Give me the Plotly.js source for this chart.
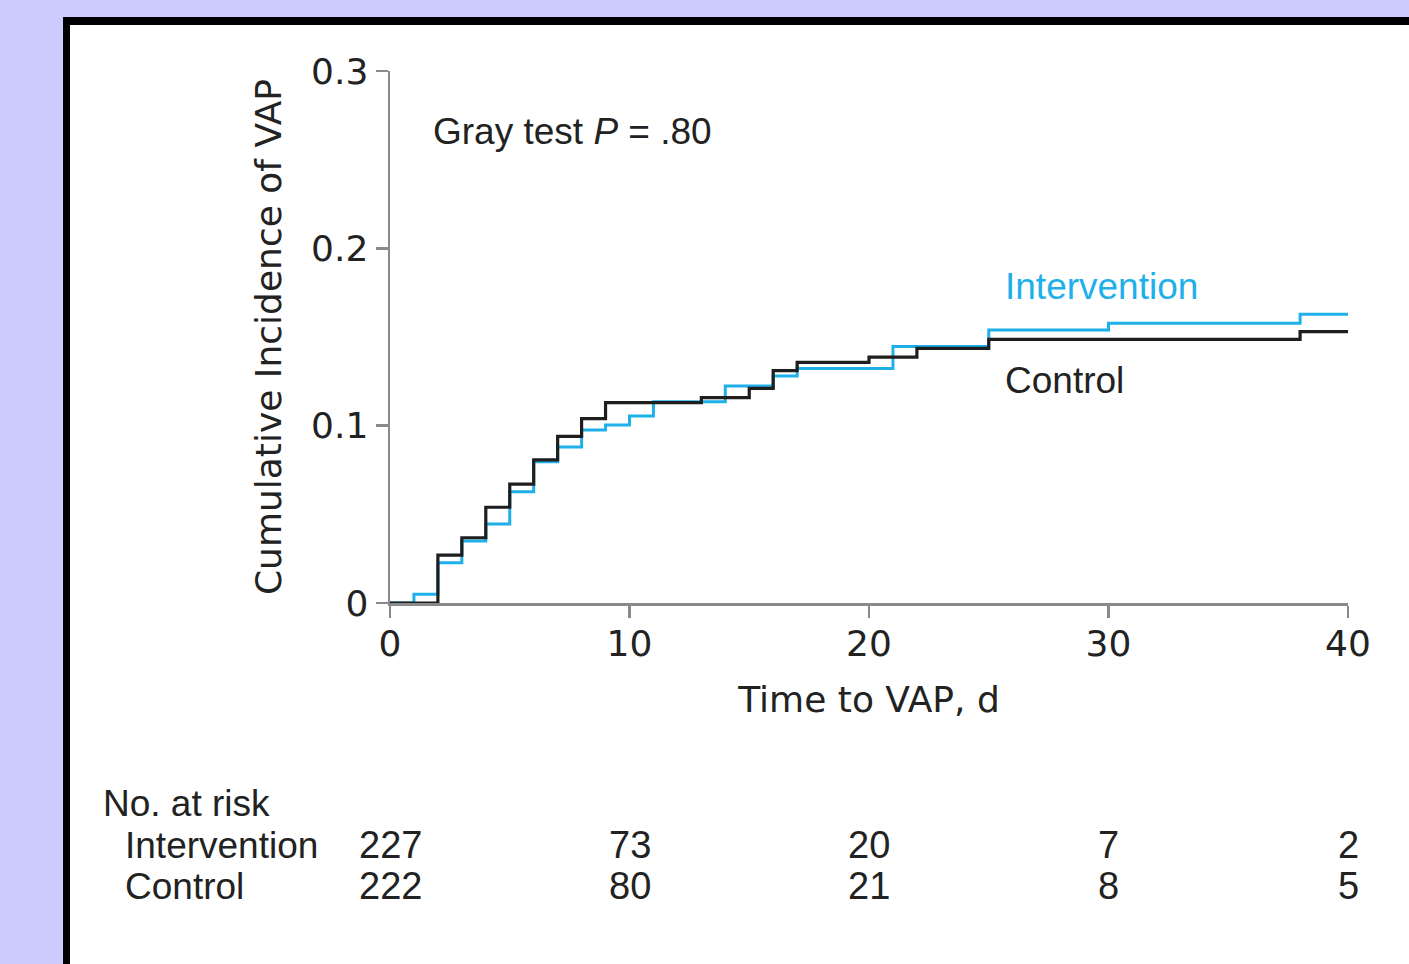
<!DOCTYPE html>
<html>
<head>
<meta charset="utf-8">
<script src="https://cdn.plot.ly/plotly-3.0.1.min.js"></script>
<style>
  html, body { margin: 0; padding: 0; background: #ccccff; width: 1409px; height: 964px; overflow: hidden; }
  #frame { position: absolute; left: 63px; top: 17px; width: 1346px; height: 947px;
           border-left: 7px solid #000; border-top: 8px solid #000; background: #fff; }
  #chart { width: 1339px; height: 939px; }
</style>
</head>
<body>
<div id="frame"><div id="chart"></div></div>
<script>
// Cumulative incidence of VAP (step functions)
const interventionDays = [0, 1, 2, 3, 4, 5, 6, 7, 8, 9, 10, 11, 14, 16, 17, 21, 25, 30, 38, 40];
const interventionCI   = [0, 0.005, 0.0227, 0.035, 0.0445, 0.0628, 0.0797, 0.088, 0.0976, 0.1004, 0.1055, 0.1135, 0.1224, 0.128, 0.1323, 0.1446, 0.154, 0.1577, 0.1628, 0.1628];
const controlDays = [0, 2, 3, 4, 5, 6, 7, 8, 9, 13, 15, 16, 17, 20, 22, 25, 38, 40];
const controlCI   = [0, 0.027, 0.0368, 0.054, 0.067, 0.0807, 0.094, 0.104, 0.113, 0.1158, 0.121, 0.131, 0.1357, 0.1386, 0.1436, 0.1487, 0.153, 0.153];

// Numbers at risk
const riskDays = [0, 10, 20, 30, 40];
const riskIntervention = [227, 73, 20, 7, 2];
const riskControl = [222, 80, 21, 8, 5];

const xTickVals = [0, 10, 20, 30, 40];
const yTickVals = [0, 0.1, 0.2, 0.3];
const yTickText = ['0', '0.1', '0.2', '0.3'];

const BLUE = '#1fb0ea';
const BLACK = '#1e1e1e';
const TEXT = '#222222';
const AXIS = '#8a8a8a';
const FONT = '"Liberation Sans", Arial, Helvetica, sans-serif';
const AXFONT = '"DejaVu Sans", "Liberation Sans", Arial, sans-serif';
const FS = 37;
const AFS = 36;

const traces = [
  { x: interventionDays, y: interventionCI, type: 'scatter', mode: 'lines',
    line: { shape: 'hv', color: BLUE, width: 3 }, name: 'Intervention', cliponaxis: false },
  { x: controlDays, y: controlCI, type: 'scatter', mode: 'lines',
    line: { shape: 'hv', color: BLACK, width: 3.2 }, name: 'Control', cliponaxis: false }
];

// paper coordinate helpers (plot area: x 390..1348, y 603..71 in page pixels)
const px = p => (p - 390) / 958;
const py = p => (603 - p) / 532;

const annotations = [
  { xref: 'paper', yref: 'paper', x: px(431), y: py(131), xanchor: 'left', yanchor: 'middle',
    text: 'Gray test <i>P</i> = .80', showarrow: false, font: { family: FONT, size: FS, color: TEXT } },
  { xref: 'paper', yref: 'paper', x: px(1003), y: py(286), xanchor: 'left', yanchor: 'middle',
    text: 'Intervention', showarrow: false, font: { family: FONT, size: FS, color: BLUE } },
  { xref: 'paper', yref: 'paper', x: px(1003), y: py(381), xanchor: 'left', yanchor: 'middle',
    text: 'Control', showarrow: false, font: { family: FONT, size: FS, color: TEXT } },
  { xref: 'paper', yref: 'paper', x: px(101), y: py(803), xanchor: 'left', yanchor: 'middle',
    text: 'No. at risk', showarrow: false, font: { family: FONT, size: FS, color: TEXT } },
  { xref: 'paper', yref: 'paper', x: px(123), y: py(845), xanchor: 'left', yanchor: 'middle',
    text: 'Intervention', showarrow: false, font: { family: FONT, size: FS, color: TEXT } },
  { xref: 'paper', yref: 'paper', x: px(123), y: py(886), xanchor: 'left', yanchor: 'middle',
    text: 'Control', showarrow: false, font: { family: FONT, size: FS, color: TEXT } }
];
riskDays.forEach((d, i) => {
  annotations.push({ xref: 'x', yref: 'paper', x: d, y: py(845), xanchor: 'center', yanchor: 'middle',
    text: String(riskIntervention[i]), showarrow: false, font: { family: FONT, size: FS + 1, color: TEXT } });
  annotations.push({ xref: 'x', yref: 'paper', x: d, y: py(886), xanchor: 'center', yanchor: 'middle',
    text: String(riskControl[i]), showarrow: false, font: { family: FONT, size: FS + 1, color: TEXT } });
});

const layout = {
  width: 1339, height: 939,
  margin: { l: 320, r: 61, t: 46, b: 361 },
  paper_bgcolor: '#ffffff', plot_bgcolor: '#ffffff',
  showlegend: false,
  font: { family: FONT, size: FS, color: TEXT },
  xaxis: {
    range: [0, 40], tickvals: xTickVals, ticks: 'outside', ticklen: 12, tickwidth: 2.5, tickcolor: AXIS,
    showline: true, linecolor: AXIS, linewidth: 2.5, showgrid: false, zeroline: false,
    tickfont: { family: AXFONT, size: AFS, color: TEXT }, ticklabelstandoff: -5,
    title: { text: 'Time to VAP, d', font: { family: AXFONT, size: AFS, color: TEXT }, standoff: 24 }
  },
  yaxis: {
    range: [0, 0.3], tickvals: yTickVals, ticktext: yTickText, ticks: 'outside', ticklen: 12, tickwidth: 2.5, tickcolor: AXIS,
    showline: true, linecolor: AXIS, linewidth: 2.5, showgrid: false, zeroline: false,
    tickfont: { family: AXFONT, size: AFS, color: TEXT },
    title: { text: 'Cumulative Incidence of VAP', font: { family: AXFONT, size: AFS, color: TEXT }, standoff: 19 }
  },
  annotations: annotations
};

Plotly.newPlot('chart', traces, layout, { displayModeBar: false, staticPlot: true });
</script>
</body>
</html>
